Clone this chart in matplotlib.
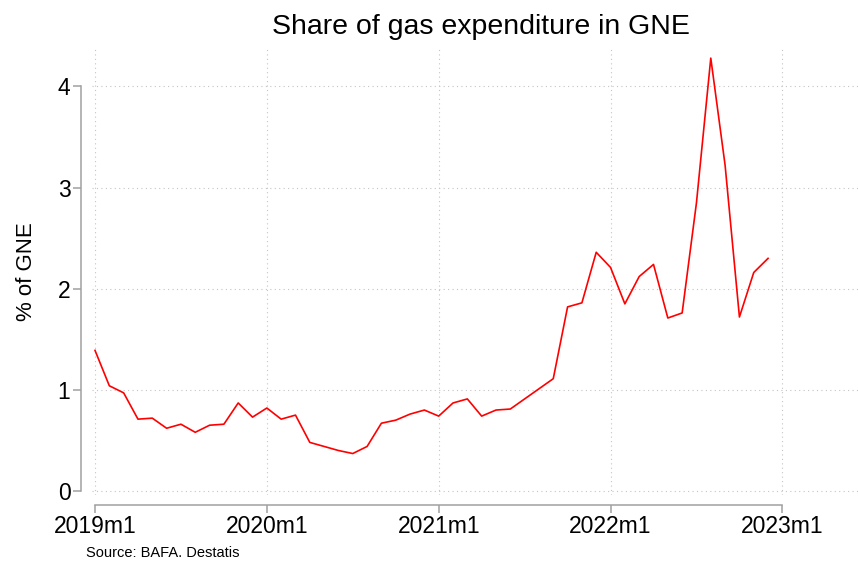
import numpy as np
import matplotlib.pyplot as plt

plt.rcParams['font.family'] = ['Liberation Sans', 'DejaVu Sans']

# Monthly share of gas expenditure in GNE, 2019m1 - 2022m12 (% of GNE)
share_2019 = [1.39, 1.04, 0.97, 0.71, 0.72, 0.62, 0.66, 0.58, 0.65, 0.66, 0.87, 0.73]
share_2020 = [0.82, 0.71, 0.75, 0.48, 0.44, 0.40, 0.37, 0.44, 0.67, 0.70, 0.76, 0.80]
share_2021 = [0.74, 0.87, 0.91, 0.74, 0.80, 0.81, 0.91, 1.01, 1.11, 1.82, 1.86, 2.36]
share_2022 = [2.21, 1.85, 2.12, 2.24, 1.71, 1.76, 2.85, 4.28, 3.22, 1.72, 2.16, 2.30]
share = share_2019 + share_2020 + share_2021 + share_2022
months = np.arange(len(share))  # months since 2019m1

xtick_pos = [0, 12, 24, 36, 48]
xtick_labels = ["2019m1", "2020m1", "2021m1", "2022m1", "2023m1"]
ytick_pos = [0, 1, 2, 3, 4]

W, H = 858, 564
fig = plt.figure(figsize=(W / 100, H / 100), dpi=100)
ax = fig.add_axes([92 / W, (H - 495) / H, (W - 92) / W, (495 - 49) / H])

ax.plot(months, share, color="#ff0000", lw=1.2)

ax.set_xlim(-0.21, 53.28)
ax.set_ylim(-0.04, 4.37)
ax.set_xticks(xtick_pos)
ax.set_xticklabels(xtick_labels)
ax.set_yticks(ytick_pos)
ax.set_yticklabels([str(v) for v in ytick_pos])

ax.grid(True, color="#c4c4c4", linestyle=(0, (1, 3)), lw=0.8)
ax.set_axisbelow(True)

axis_col = "#a0a0a0"
for s in ["top", "right"]:
    ax.spines[s].set_visible(False)
ax.spines["left"].set_position(("outward", 8))
ax.spines["left"].set_bounds(0, 4)
ax.spines["bottom"].set_position(("outward", 7))
ax.spines["bottom"].set_bounds(0, 48)
for s in ["left", "bottom"]:
    ax.spines[s].set_color(axis_col)
    ax.spines[s].set_linewidth(1.1)

ax.tick_params(axis="both", colors=axis_col, labelcolor="black",
               labelsize=16.5, length=5.5, width=1.1, pad=2)

ax.set_ylabel("% of GNE", fontsize=16, labelpad=15)
fig.text(481 / W, 1 - 27 / H, "Share of gas expenditure in GNE",
         ha="center", va="center", fontsize=20.5)
fig.text(86 / W, (H - 553) / H, "Source: BAFA. Destatis",
         ha="left", va="center", fontsize=10.5)

fig.savefig("out.png", dpi=100)
